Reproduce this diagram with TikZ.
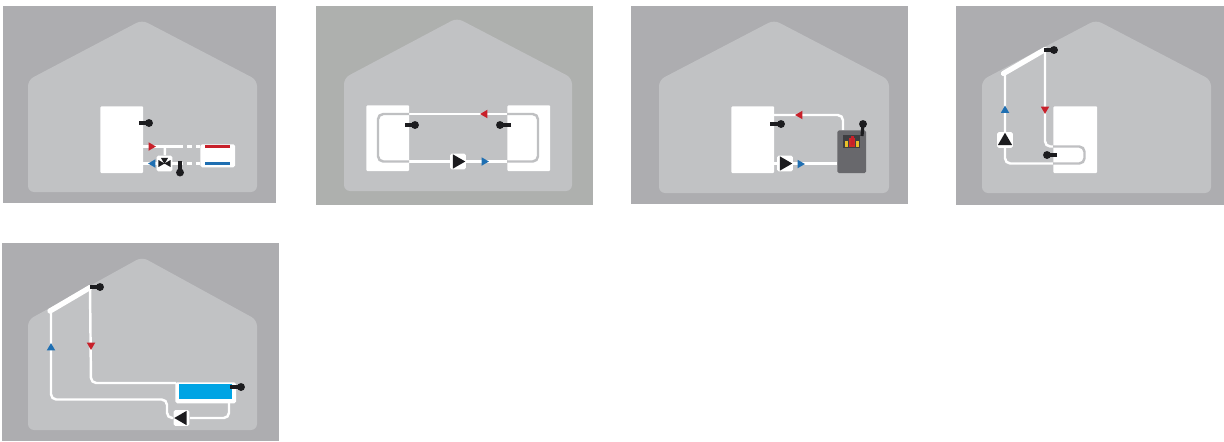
\documentclass[tikz,border=0pt]{standalone}
\usetikzlibrary{shapes.geometric}
\pgfdeclarelayer{background}
\pgfsetlayers{background,main}
\definecolor{wallgray}{HTML}{ADADB0}
\definecolor{wallgreen}{HTML}{AEB0AE}
\definecolor{housegray}{HTML}{C1C2C4}
\definecolor{loopgray}{HTML}{BFC0C2}
\definecolor{boilergray}{HTML}{68686C}
\definecolor{darkink}{HTML}{1C1C1F}
\definecolor{hotred}{HTML}{C8202A}
\definecolor{coldblue}{HTML}{1F6FB2}
\definecolor{poolblue}{HTML}{00A4E4}
\definecolor{flameyellow}{HTML}{E8C02A}
\tikzset{
  wall/.style={fill=#1},
  house/.style={fill=housegray,rounded corners=3.5pt},
  tank/.style={fill=white,rounded corners=0.6pt,inner sep=0,anchor=north west},
  pipe/.style={draw=white,line width=1.4pt,rounded corners=3pt},
  innerloop/.style={draw=loopgray,line width=1.4pt,rounded corners=3pt},
  bulb/.style={circle,fill=darkink,inner sep=0,outer sep=0,minimum size=4.5pt},
  stem/.style={draw=darkink,line width=1.8pt},
  tri/.style={regular polygon,regular polygon sides=3,inner sep=0,shape border rotate=#1},
  flowred/.style={tri=#1,fill=hotred,minimum size=5.6pt},
  flowblue/.style={tri=#1,fill=coldblue,minimum size=5.6pt},
  pumpbox/.style={fill=white,rounded corners=1pt,inner sep=0,minimum size=9pt},
  pumphead/.style={tri=#1,fill=darkink,minimum size=9.4pt},
  mixhead/.style={tri=#1,fill=darkink,minimum size=4.6pt},
}
\begin{document}
\begin{tikzpicture}[x=0.02cm,y=-0.02cm]
\useasboundingbox (0,0) rectangle (1224,441);

% backgrounds
\begin{pgfonlayer}{background}
\fill[wall=wallgray] (3,6) rectangle (276,203);
\fill[house] (28,192) -- (28,80) -- (142,20) -- (257,80) -- (257,192) -- cycle;
\fill[wall=wallgreen] (316,6) rectangle (593,205);
\fill[house] (344,191) -- (344,78) -- (457,18) -- (572,78) -- (572,191) -- cycle;
\fill[wall=wallgray] (631,6) rectangle (908,204);
\fill[house] (659,193) -- (659,80) -- (774,20) -- (889,80) -- (889,193) -- cycle;
\fill[wall=wallgray] (956,6) rectangle (1224,205);
\fill[house] (982,193) -- (982,80) -- (1096,20) -- (1211,80) -- (1211,193) -- cycle;
\fill[wall=wallgray] (2,243) rectangle (279,441);
\fill[house] (28,430) -- (28,320) -- (142,257) -- (257,320) -- (257,430) -- cycle;
\end{pgfonlayer}

% radiator
\node[tank,minimum height=67*0.5669pt,minimum width=43*0.5669pt] (tankA) at (100,106) {};
\node[tank,rounded corners=1pt,minimum width=35*0.5669pt,minimum height=23*0.5669pt] (rad) at (200,144) {};
\coordinate (radA) at (200,146.5);
\coordinate (radB) at (200,163.5);
\coordinate (radC) at (205,146.5);
\coordinate (radD) at (230,146.5);
\coordinate (radE) at (205,163.5);
\coordinate (radF) at (230,163.5);
\draw[hotred,line width=1.3pt] (radC) -- (radD);
\draw[coldblue,line width=1.3pt] (radE) -- (radF);
\node[flowred=-90] (fA) at (151,146.5) {};
\node[flowblue=90] (fB) at (153,163.5) {};
\node[pumpbox] (mixbox) at (164.5,163.5) {};
\node[mixhead=-90] (mixL) at (160.5,163.5) {};
\node[mixhead=90] (mixR) at (168.5,163.5) {};
\node[mixhead=180] (mixT) at (164.5,160) {};
\coordinate (tankAa) at (143,146.5);
\coordinate (tankAb) at (143,163.5);
\coordinate (teeA) at (165,146.5);
\coordinate (gapA) at (183,146.5);
\coordinate (gapB) at (183,163.5);
\coordinate (gapC) at (187,146.5);
\coordinate (gapD) at (187,163.5);
\begin{pgfonlayer}{background}
\draw[pipe] (tankAa) -- (gapA);
\draw[pipe] (tankAb) -- (gapB);
\draw[pipe] (teeA) -- (mixbox);
\draw[pipe,dash pattern=on 2.8pt off 2.2pt] (gapC) -- (radA);
\draw[pipe,dash pattern=on 2.8pt off 2.2pt] (gapD) -- (radB);
\end{pgfonlayer}
\node[bulb] (sA) at (149,123) {};
\coordinate (sAa) at (139,123);
\draw[stem] (sAa) -- (sA.center);
\node[bulb] (sB) at (180,172.5) {};
\coordinate (sBa) at (180,161);
\draw[stem] (sBa) -- (sB.center);

% two tanks
\node[tank,minimum width=43*0.5669pt,minimum height=66*0.5669pt] (tankB) at (366,105) {};
\node[tank,minimum width=43*0.5669pt,minimum height=66*0.5669pt] (tankC) at (507,105) {};
\coordinate (loopA) at (378,114);
\coordinate (loopB) at (538,114);
\coordinate (loopC) at (538,161.5);
\coordinate (loopD) at (378,161.5);
\coordinate (loopE) at (409,114);
\coordinate (loopF) at (507,114);
\coordinate (loopG) at (507,161.5);
\coordinate (loopH) at (409,161.5);
\draw[innerloop] (loopE) -- (loopA) -- (loopD) -- (loopH);
\draw[innerloop] (loopF) -- (loopB) -- (loopC) -- (loopG);
\begin{pgfonlayer}{background}
\draw[pipe] (loopE) -- (loopF);
\draw[pipe] (loopH) -- (loopG);
\end{pgfonlayer}
\node[flowred=90] (fC) at (485,114) {};
\node[flowblue=-90] (fD) at (484,161.5) {};
\node[pumpbox] (pB) at (458,161.5) {};
\node[pumphead=-90] (pBh) at (457,161.5) {};
\node[bulb] (sC) at (415,125) {};
\coordinate (sCa) at (405,125);
\draw[stem] (sCa) -- (sC.center);
\node[bulb] (sD) at (500,125) {};
\coordinate (sDa) at (511,125);
\draw[stem] (sDa) -- (sD.center);

% boiler
\node[tank,minimum width=43*0.5669pt,minimum height=67*0.5669pt] (tankD) at (731,106) {};
\node[tank,fill=boilergray,rounded corners=1pt,minimum width=29*0.5669pt,minimum height=43*0.5669pt] (boiler) at (837,130) {};
\coordinate (tankDa) at (774,115);
\coordinate (bendD) at (843,115);
\coordinate (boilerA) at (843,130);
\coordinate (tankDb) at (774,163.5);
\coordinate (boilerB) at (837,163.5);
\begin{pgfonlayer}{background}
\draw[pipe] (tankDa) -- (bendD) -- (boilerA);
\draw[pipe] (tankDb) -- (boilerB);
\end{pgfonlayer}
\node[tank,fill=darkink!85,rounded corners=0pt,minimum width=17*0.5669pt,minimum height=13*0.5669pt] (firebox) at (843,135) {};
\node[fill=flameyellow,inner sep=0,minimum width=2.5*0.5669pt,minimum height=7*0.5669pt] (flA) at (846.5,144) {};
\node[fill=flameyellow,inner sep=0,minimum width=2.5*0.5669pt,minimum height=7*0.5669pt] (flB) at (857.5,144) {};
\node[fill=hotred!90!orange,inner sep=0,minimum width=3*0.5669pt,minimum height=10*0.5669pt] (flC) at (850.5,142.5) {};
\node[fill=hotred!90!orange,inner sep=0,minimum width=3*0.5669pt,minimum height=10*0.5669pt] (flD) at (853.5,142.5) {};
\node[fill=hotred,inner sep=0,minimum width=3*0.5669pt,minimum height=10*0.5669pt] (flE) at (852,140.5) {};
\node[flowred=90] (fE) at (800,115) {};
\node[flowblue=-90] (fF) at (800,164) {};
\node[pumpbox] (pD) at (785,163.5) {};
\node[pumphead=-90] (pDh) at (784,163.5) {};
\node[bulb] (sE) at (863,124) {};
\coordinate (sEa) at (862,136);
\draw[stem] (sEa) -- (sE.center);
\node[bulb] (sF) at (781,124) {};
\coordinate (sFa) at (770,124);
\draw[stem] (sFa) -- (sF.center);

% solar collector and tank
\node[tank,minimum width=44*0.5669pt,minimum height=67*0.5669pt] (tankE) at (1053,106) {};
\coordinate (colA) at (1003.5,73.5);
\coordinate (colB) at (1045,49.5);
\coordinate (colC) at (1005,73);
\coordinate (tankEa) at (1053,146.5);
\coordinate (tankEb) at (1053,163.5);
\coordinate (bendEa) at (1045,146.5);
\coordinate (bendEb) at (1005,163.5);
\coordinate (loopEa) at (1084.5,146.5);
\coordinate (loopEb) at (1084.5,163.5);
\begin{pgfonlayer}{background}
\draw[pipe] (colB) -- (bendEa) -- (tankEa);
\draw[pipe] (colC) -- (bendEb) -- (tankEb);
\end{pgfonlayer}
\draw[innerloop] (tankEa) -- (loopEa) -- (loopEb) -- (tankEb);
\draw[draw=white,line width=3pt,line cap=round] (colA) -- (colB);
\node[flowblue=0] (fG) at (1005,110.5) {};
\node[flowred=180] (fH) at (1045,109) {};
\node[pumpbox] (pE) at (1005,140) {};
\node[pumphead=0] (pEh) at (1005,141) {};
\node[bulb] (sG) at (1054,50) {};
\coordinate (sGa) at (1044,50);
\draw[stem] (sGa) -- (sG.center);
\node[bulb] (sH) at (1047,155) {};
\coordinate (sHa) at (1057,155);
\draw[stem] (sHa) -- (sH.center);

% solar collector and pool
\node[tank,rounded corners=1pt,minimum width=61*0.5669pt,minimum height=21*0.5669pt] (pool) at (175,382) {};
\node[tank,fill=poolblue,rounded corners=0pt,minimum width=53*0.5669pt,minimum height=15.5*0.5669pt] (water) at (179,383.5) {};
\coordinate (colD) at (50,311);
\coordinate (colE) at (90,287.5);
\coordinate (colF) at (51,311);
\coordinate (bendFa) at (91,383);
\coordinate (poolA) at (176,383);
\coordinate (bendFb) at (51,399.5);
\coordinate (bendFc) at (167,399.5);
\coordinate (bendFd) at (167,418);
\coordinate (bendFe) at (229,418);
\coordinate (poolB) at (229,403);
\node[pumpbox] (pF) at (181.5,418) {};
\node[pumphead=90] (pFh) at (182.5,418) {};
\begin{pgfonlayer}{background}
\draw[pipe] (colE) -- (bendFa) -- (poolA);
\draw[pipe] (colF) -- (bendFb) -- (bendFc) -- (bendFd) -- (pF);
\draw[pipe] (pF) -- (bendFe) -- (poolB);
\end{pgfonlayer}
\draw[draw=white,line width=3pt,line cap=round] (colD) -- (colE);
\node[flowblue=0] (fJ) at (51,348) {};
\node[flowred=180] (fK) at (91,345) {};
\node[bulb] (sJ) at (100,287) {};
\coordinate (sJa) at (90,287);
\draw[stem] (sJa) -- (sJ.center);
\node[bulb] (sK) at (241,387) {};
\coordinate (sKa) at (230,387);
\draw[stem] (sKa) -- (sK.center);
\end{tikzpicture}
\end{document}
